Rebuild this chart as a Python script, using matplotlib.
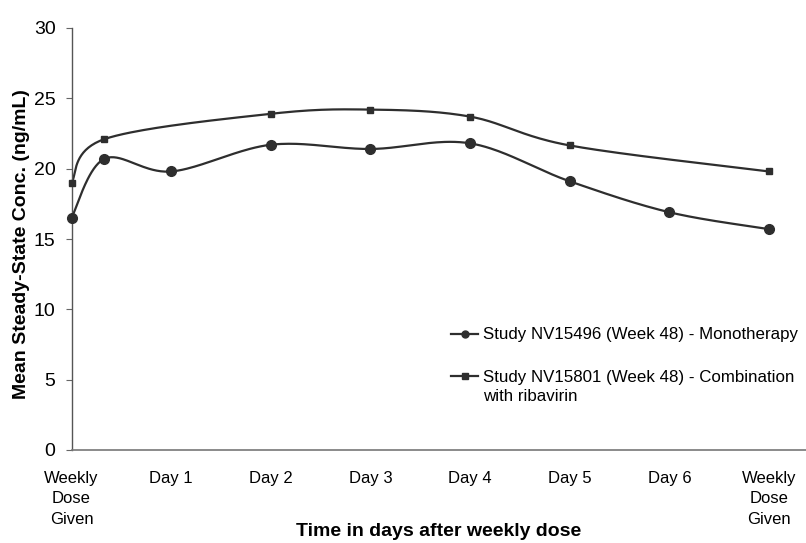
import numpy as np
import matplotlib
matplotlib.use("Agg")
import matplotlib.pyplot as plt
from matplotlib.lines import Line2D

plt.rcParams['font.family'] = ['Liberation Sans', 'DejaVu Sans']

# Data
tick_pos = [0, 1, 2, 3, 4, 5, 6, 7]
tick_labels = ["Weekly\nDose\nGiven", "Day 1", "Day 2", "Day 3", "Day 4",
               "Day 5", "Day 6", "Weekly\nDose\nGiven"]

mono_x = [0, 0.33, 1, 2, 3, 4, 5, 6, 7]
mono_y = [16.5, 20.7, 19.8, 21.7, 21.4, 21.8, 19.1, 16.9, 15.7]

combo_x = [0, 0.33, 2, 3, 4, 5, 7]
combo_y = [19.0, 22.1, 23.9, 24.2, 23.7, 21.65, 19.8]

mono_label = "Study NV15496 (Week 48) - Monotherapy"
combo_label = "Study NV15801 (Week 48) - Combination\nwith ribavirin"

color = "#2e2e2e"


def smooth(xs, ys, n=40):
    """Excel-like smoothed line (Catmull-Rom style Bezier)."""
    P = np.column_stack([xs, ys]).astype(float)
    out = []
    for i in range(len(P) - 1):
        p0 = P[i - 1] if i > 0 else P[i]
        p1 = P[i]
        p2 = P[i + 1]
        p3 = P[i + 2] if i + 2 < len(P) else P[i + 1]
        c1 = p1 + (p2 - p0) / 6.0
        c2 = p2 - (p3 - p1) / 6.0
        t = np.linspace(0, 1, n)[:, None]
        seg = ((1 - t) ** 3) * p1 + 3 * ((1 - t) ** 2) * t * c1 + 3 * (1 - t) * t ** 2 * c2 + t ** 3 * p2
        out.append(seg if i == 0 else seg[1:])
    S = np.vstack(out)
    return S[:, 0], S[:, 1]


fig = plt.figure(figsize=(8.06, 5.43), dpi=100)
ax = fig.add_axes([71.5 / 806, 1 - 450 / 543, 1 - 71.5 / 806, (450 - 28) / 543])

sx, sy = smooth(mono_x, mono_y)
ax.plot(sx, sy, color=color, lw=1.6, zorder=2, clip_on=False)
ax.plot(mono_x, mono_y, 'o', color=color, ms=7, zorder=3, clip_on=False)

sx, sy = smooth(combo_x, combo_y)
ax.plot(sx, sy, color=color, lw=1.6, zorder=2, clip_on=False)
ax.plot(combo_x, combo_y, 's', color=color, ms=5, zorder=3, clip_on=False)

ax.set_xlim(0, 7.37)
ax.set_ylim(0, 30)
ax.set_yticks([0, 5, 10, 15, 20, 25, 30])
ax.set_xticks(tick_pos)
ax.set_xticklabels(tick_labels, fontsize=12, linespacing=1.45)
ax.tick_params(axis='x', length=0, pad=15)
ax.tick_params(axis='y', labelsize=14, length=4, width=0.8, color="#666666", pad=7.5)

for s in ['top', 'right']:
    ax.spines[s].set_visible(False)
ax.spines['left'].set_color("#555555")
ax.spines['bottom'].set_color("#777777")
ax.spines['left'].set_linewidth(1.0)
ax.spines['bottom'].set_linewidth(1.2)

ax.set_ylabel("Mean Steady-State Conc. (ng/mL)", fontsize=14, fontweight='bold')
ax.set_xlabel("Time in days after weekly dose", fontsize=14, fontweight='bold')
ax.yaxis.set_label_coords((22 - 71.5) / 734.5, 0.488)
ax.yaxis.label.set_va('center')
ax.xaxis.set_label_coords(0.5, (450 - 532) / 422)
ax.xaxis.label.set_va('center')

combo_lines = combo_label.split("\n")
handles = [Line2D([], [], color=color, lw=1.6, marker='o', ms=5),
           Line2D([], [], color=color, lw=1.6, marker='s', ms=3.8)]
leg = ax.legend(handles, [mono_label, combo_lines[0]], loc='upper left',
                bbox_to_anchor=(443 / 806, 1 - 319 / 543), bbox_transform=fig.transFigure,
                frameon=False, fontsize=12.2, handlelength=1.55, handletextpad=0.3,
                labelspacing=1.6, borderpad=0)

fig.canvas.draw()
tb = leg.get_texts()[1].get_window_extent()
fig.text(tb.x0 / fig.bbox.width, (tb.y0 - 4) / fig.bbox.height, combo_lines[1],
         fontsize=12.2, va='top', ha='left')

fig.savefig("out.png", dpi=100)
